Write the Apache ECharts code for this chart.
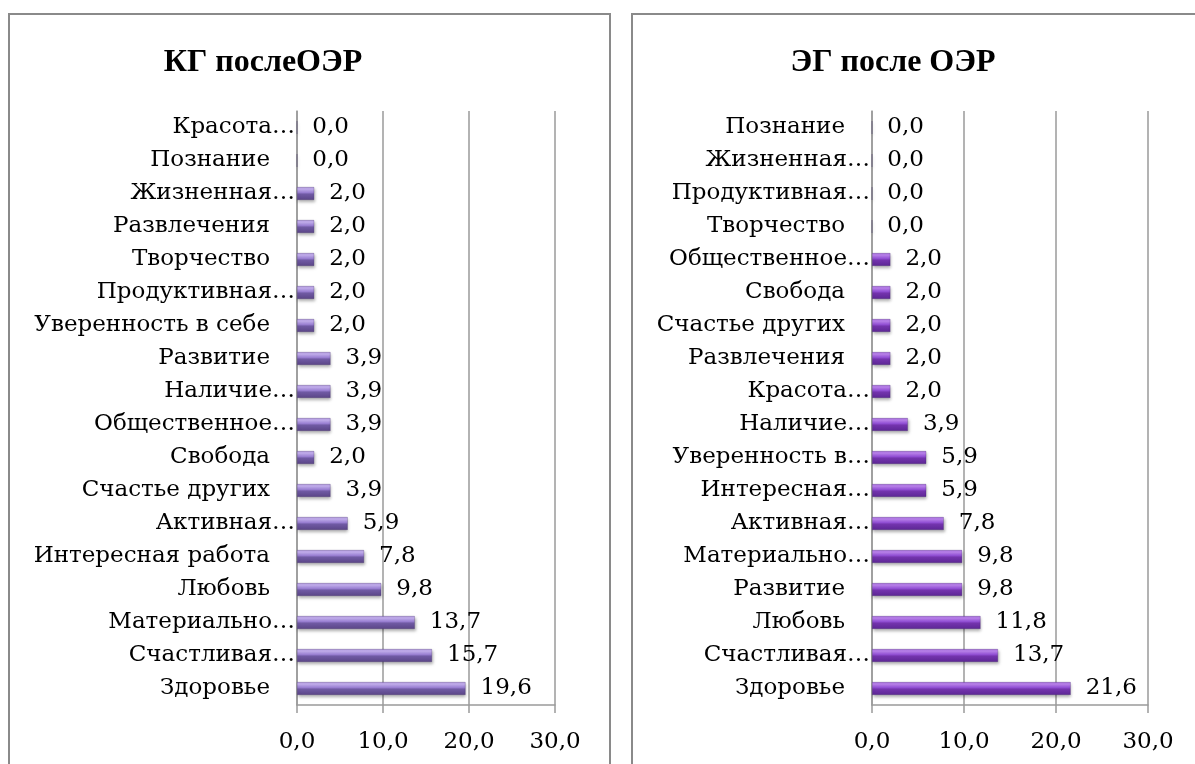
<!DOCTYPE html>
<html>
<head>
<meta charset="utf-8">
<script src="https://cdn.jsdelivr.net/npm/echarts@6/dist/echarts.min.js"></script>
<style>
  html, body { margin: 0; padding: 0; background: #fff; }
  #chart { width: 1195px; height: 764px; }
</style>
</head>
<body>
<div id="chart"></div>
<script>
// Control group (КГ) after the experiment, listed top to bottom
const kgTitle = 'КГ послеОЭР';
const kgCategories = [
  'Красота…', 'Познание', 'Жизненная…', 'Развлечения', 'Творчество',
  'Продуктивная…', 'Уверенность в себе', 'Развитие', 'Наличие…',
  'Общественное…', 'Свобода', 'Счастье других', 'Активная…',
  'Интересная работа', 'Любовь', 'Материально…', 'Счастливая…', 'Здоровье'
];
const kgValues = [0.0, 0.0, 2.0, 2.0, 2.0, 2.0, 2.0, 3.9, 3.9, 3.9, 2.0, 3.9, 5.9, 7.8, 9.8, 13.7, 15.7, 19.6];

// Experimental group (ЭГ) after the experiment, listed top to bottom
const egTitle = 'ЭГ после ОЭР';
const egCategories = [
  'Познание', 'Жизненная…', 'Продуктивная…', 'Творчество', 'Общественное…',
  'Свобода', 'Счастье других', 'Развлечения', 'Красота…', 'Наличие…',
  'Уверенность в…', 'Интересная…', 'Активная…', 'Материально…',
  'Развитие', 'Любовь', 'Счастливая…', 'Здоровье'
];
const egValues = [0.0, 0.0, 0.0, 0.0, 2.0, 2.0, 2.0, 2.0, 2.0, 3.9, 5.9, 5.9, 7.8, 9.8, 9.8, 11.8, 13.7, 21.6];

// Shared value axis
const axisMin = 0;
const axisMax = 30;
const axisStep = 10;

const FONT = 'DejaVu Serif';
const FONT_SIZE = 23;
const fmt = v => Number(v).toFixed(1).replace('.', ',');

function barGradient(stops) {
  return new echarts.graphic.LinearGradient(0, 0, 0, 1,
    stops.map(c => ({ offset: c[0], color: c[1] })));
}
const kgFill = barGradient([[0, '#a288d6'], [0.15, '#c6b2f0'], [0.42, '#9a80d2'], [0.55, '#705aa4'], [1, '#5a4586']]);
const egFill = barGradient([[0, '#9858d6'], [0.15, '#bd86ee'], [0.42, '#9250d4'], [0.55, '#7434ae'], [1, '#5c2694']]);

function categoryAxis(idx, cats) {
  return {
    type: 'category', gridIndex: idx, data: cats, inverse: true,
    axisLine: { lineStyle: { color: '#9a9a9a', width: 1.5 } },
    axisTick: { length: 8, lineStyle: { color: '#9a9a9a', width: 1.5 } },
    axisLabel: {
      margin: 2, color: '#000', fontFamily: FONT, fontSize: FONT_SIZE,
      formatter: n => n.endsWith('…') ? n : n + '{s| }',
      rich: { s: { width: 25 } }
    }
  };
}
function valueAxis(idx) {
  return {
    type: 'value', gridIndex: idx, min: axisMin, max: axisMax, interval: axisStep,
    axisLine: { show: true, lineStyle: { color: '#9a9a9a', width: 1.5 } },
    axisTick: { show: true, length: 8, lineStyle: { color: '#9a9a9a', width: 1.5 } },
    splitLine: { show: true, lineStyle: { color: '#9a9a9a', width: 1.5 } },
    axisLabel: { margin: 26, color: '#000', fontFamily: FONT, fontSize: FONT_SIZE, formatter: fmt }
  };
}
function barSeries(idx, values, fill) {
  return {
    type: 'bar', xAxisIndex: idx, yAxisIndex: idx, data: values, barWidth: 13,
    itemStyle: {
      color: fill, borderColor: 'rgba(60,40,100,0.5)', borderWidth: 0.5,
      shadowColor: 'rgba(0,0,0,0.3)', shadowBlur: 3, shadowOffsetX: 1, shadowOffsetY: 2
    },
    label: {
      show: true, position: 'right', distance: 15, color: '#000',
      fontFamily: FONT, fontSize: FONT_SIZE, formatter: p => fmt(p.value)
    },
    silent: true
  };
}

const titleStyle = { fontFamily: 'Liberation Serif', fontWeight: 'bold', fontSize: 32, color: '#000' };

const chart = echarts.init(document.getElementById('chart'), null, { renderer: 'canvas' });
chart.setOption({
  animation: false,
  title: [
    { text: kgTitle, left: 258, top: 42, textAlign: 'center', textStyle: titleStyle },
    { text: egTitle, left: 888, top: 42, textAlign: 'center', textStyle: titleStyle }
  ],
  graphic: [
    { type: 'rect', shape: { x: 9, y: 14, width: 601, height: 800 },
      style: { fill: 'none', stroke: '#8a8a8a', lineWidth: 2 }, z: -1 },
    { type: 'rect', shape: { x: 632, y: 14, width: 600, height: 800 },
      style: { fill: 'none', stroke: '#8a8a8a', lineWidth: 2 }, z: -1 }
  ],
  grid: [
    { left: 297, top: 111, width: 258, height: 594 },
    { left: 872, top: 111, width: 276, height: 594 }
  ],
  xAxis: [valueAxis(0), valueAxis(1)],
  yAxis: [categoryAxis(0, kgCategories), categoryAxis(1, egCategories)],
  series: [barSeries(0, kgValues, kgFill), barSeries(1, egValues, egFill)]
});
</script>
</body>
</html>
